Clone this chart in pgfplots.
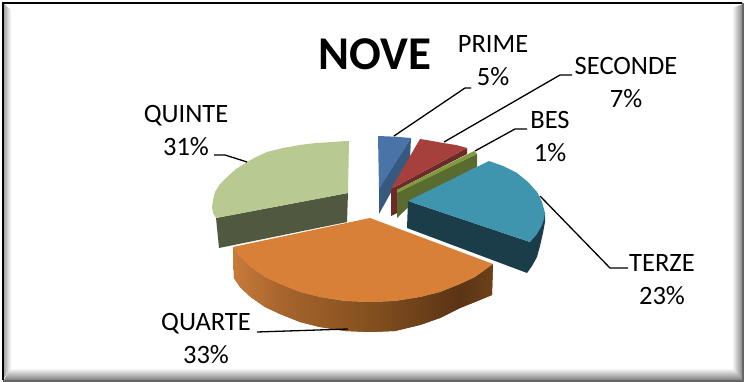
\documentclass[border=0pt]{standalone}
\usepackage{pgfplots}
\pgfplotsset{compat=1.18}
\usepackage{fontspec}
\setmainfont{Carlito}
\definecolor{qtop}{HTML}{D87F38}
\definecolor{qa}{HTML}{C87A3A}\definecolor{qb}{HTML}{A8652D}\definecolor{qc}{HTML}{84501F}\definecolor{qd}{HTML}{5A3415}\definecolor{qe}{HTML}{6D411A}
\definecolor{ptop}{HTML}{4A74A8}\definecolor{pwall}{HTML}{36597F}
\definecolor{stop}{HTML}{A5403D}\definecolor{swall}{HTML}{6E2A28}
\definecolor{btop}{HTML}{7F9B3F}\definecolor{bwall}{HTML}{5A6B30}
\definecolor{ttop}{HTML}{3F95AE}\definecolor{twall}{HTML}{1B3D4A}
\definecolor{vtop}{HTML}{B8CA92}\definecolor{vwall}{HTML}{50583F}
\begin{document}
\begin{tikzpicture}
\begin{axis}[hide axis, scale only axis, width=744pt, height=382pt, xmin=0, xmax=744, ymin=0, ymax=382, y dir=reverse, clip=false, no marks]
% frame shadows
\addplot[draw=none, fill=white, forget plot] coordinates {(0,0)(744,0)(744,382)(0,382)} -- cycle;
\addplot[draw=none, left color=white, right color=black!50, forget plot] coordinates {(732,8)(743,4)(743,381)(732,369)} -- cycle;
\addplot[draw=none, top color=white, bottom color=black!50, forget plot] coordinates {(10,368)(732,368)(743,380)(4,380)} -- cycle;
\addplot[draw=none, left color=black!35, right color=white, forget plot] coordinates {(4,4)(11,10)(11,368)(4,378)} -- cycle;
\addplot[draw=black, line width=2pt, forget plot] coordinates {(3,380)(3,3)(742,3)};
\addplot[draw=black!60, line width=1.2pt, forget plot] coordinates {(743,3)(743,381)(3,381)};
% quinte
\addplot[draw=none, fill=vwall, forget plot] coordinates {(216,218)(348,193)(347,222)(219,248)} -- cycle;
\addplot[draw=none, fill=vtop, forget plot] coordinates {(349,141)(341,141.3)(333,142)(316,143)(300,145)(283,148)(267,152)(256,157)(247,162)(236,169)(227,177)(220,184)(215,192)(213,200)(212,207)(213,213)(216,218)(348,193)} -- cycle;
% prime
\addplot[draw=none, fill=pwall, forget plot] coordinates {(411,138)(410,158)(379,214)(379,188)} -- cycle;
\addplot[draw=none, fill=ptop, forget plot] coordinates {(378,136)(395,136.7)(411,138)(379,189)} -- cycle;
% seconde
\addplot[draw=none, fill=swall, forget plot] coordinates {(391,189)(467,148)(467,154)(397,190)(397,213)(391,216)} -- cycle;
\addplot[draw=none, fill=stop, forget plot] coordinates {(391,189)(420,139)(432,141)(443,143)(456,145)(467,148)} -- cycle;
% bes
\addplot[draw=none, fill=bwall, forget plot] coordinates {(397,192)(477,154)(477,167)(420,196)(397,218)} -- cycle;
\addplot[draw=none, fill=btop, forget plot] coordinates {(397,190)(474,151)(477,154)(397,193)} -- cycle;
% terze
\addplot[draw=none, fill=twall, forget plot] coordinates {(408,201)(530,242)(545,213)(545,222)(543,233)(540,246)(537,257)(532,266)(527,273)(407,228)} -- cycle;
\addplot[draw=none, fill=ttop, forget plot] coordinates {(408,201)(489,161)(503,166)(517,173)(528,182)(537,192)(542,202)(545,213)(544,219)(542,225)(537,234)(530,242)} -- cycle;
% quarte
\addplot[draw=none, fill=qc, forget plot] coordinates {(233,247)(240,257)(250,266.5)(265,277)(280,284)(300,292)(320,297)(345,301)(370,302)(395,301)(420,297)(440,292)(460,284)(475,277)(493,264)(492,295)(475,302)(460,308)(440,318)(420,325)(395,331)(370,332)(345,331)(320,327)(300,322)(280,314)(265,307)(250,296.5)(240,287)(234,278)} -- cycle;
\addplot[draw=none, left color=qa, right color=qb, forget plot] coordinates {(233,247)(240,257)(250,266.5)(265,277)(280,284)(280,314)(265,307)(250,296.5)(240,287)(234,278)} -- cycle;
\addplot[draw=none, left color=qb, right color=qc, forget plot] coordinates {(280,284)(300,292)(320,297)(345,301)(370,302)(370,332)(345,331)(320,327)(300,322)(280,314)} -- cycle;
\addplot[draw=none, left color=qc, right color=qd, forget plot] coordinates {(370,302)(395,301)(420,297)(440,292)(460,284)(460,308)(440,318)(420,325)(395,331)(370,332)} -- cycle;
\addplot[draw=none, left color=qd, right color=qe, forget plot] coordinates {(460,284)(475,277)(493,264)(492,295)(475,302)(460,308)} -- cycle;
\addplot[draw=none, fill=qtop, forget plot] coordinates {(370,218)(233,247)(240,257)(250,266.5)(265,277)(280,284)(300,292)(320,297)(345,301)(370,302)(395,301)(420,297)(440,292)(460,284)(475,277)(493,264)} -- cycle;
% leaders
\addplot[black, line width=1.3pt, forget plot] coordinates {(394,136)(465,88)(471,88)};
\addplot[black, line width=1.3pt, forget plot] coordinates {(444,142)(560,75)(572,75)};
\addplot[black, line width=1.3pt, forget plot] coordinates {(475,151)(515,129)(527,129)};
\addplot[black, line width=1.3pt, forget plot] coordinates {(540,196)(610,268)(628,268)};
\addplot[black, line width=1.3pt, forget plot] coordinates {(348,329)(257,332)};
\addplot[black, line width=1.3pt, forget plot] coordinates {(247,162)(225,155)(214,155)};
% text
\node[font=\fontsize{47}{47}\selectfont\bfseries, anchor=center] at (axis cs:375,54) {NOVE};
\node[font=\fontsize{26.5}{33}\selectfont, align=center, anchor=center] at (axis cs:493,61) {PRIME\\5\%};
\node[font=\fontsize{26.5}{33}\selectfont, align=center, anchor=center] at (axis cs:626,83) {SECONDE\\7\%};
\node[font=\fontsize{26.5}{33}\selectfont, align=center, anchor=center] at (axis cs:550,137) {BES\\1\%};
\node[font=\fontsize{26.5}{33}\selectfont, align=center, anchor=center] at (axis cs:662,280) {TERZE\\23\%};
\node[font=\fontsize{26.5}{33}\selectfont, align=center, anchor=center] at (axis cs:206,339) {QUARTE\\33\%};
\node[font=\fontsize{26.5}{33}\selectfont, align=center, anchor=center] at (axis cs:186,131) {QUINTE\\31\%};
\end{axis}
\end{tikzpicture}
\end{document}
